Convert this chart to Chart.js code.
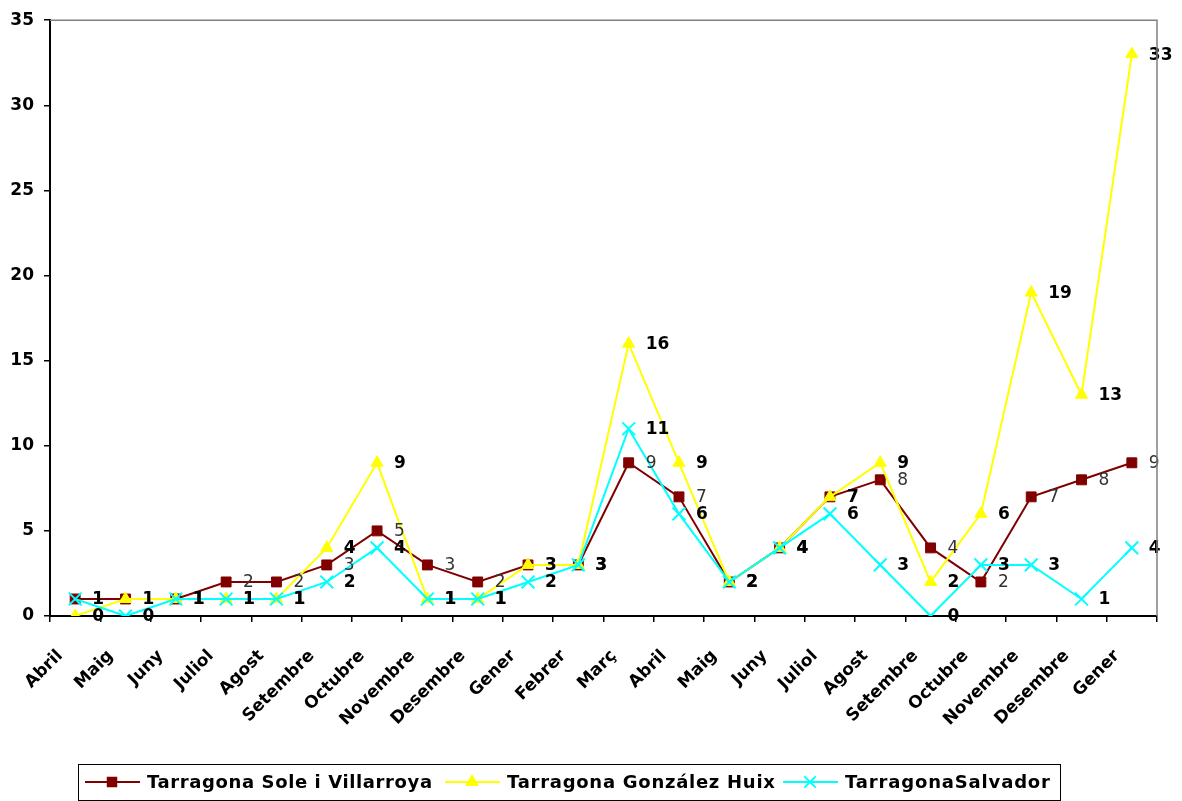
<!DOCTYPE html>
<html>
<head>
<meta charset="utf-8">
<script src="https://cdn.jsdelivr.net/npm/chart.js@4.4.1/dist/chart.umd.min.js"></script>
<style>
  html, body { margin: 0; padding: 0; background: #fff; }
  #wrap { width: 1182px; height: 801px; }
</style>
</head>
<body>
<div id="wrap"><canvas id="grafic" width="1182" height="801"></canvas></div>
<script>
const mesos = ['Abril', 'Maig', 'Juny', 'Juliol', 'Agost', 'Setembre', 'Octubre', 'Novembre', 'Desembre', 'Gener', 'Febrer', 'Març',
               'Abril', 'Maig', 'Juny', 'Juliol', 'Agost', 'Setembre', 'Octubre', 'Novembre', 'Desembre', 'Gener'];
const soleVillarroya = [1, 1, 1, 2, 2, 3, 5, 3, 2, 3, 3, 9, 7, 2, 4, 7, 8, 4, 2, 7, 8, 9];
const gonzalezHuix   = [0, 1, 1, 1, 1, 4, 9, 1, 1, 3, 3, 16, 9, 2, 4, 7, 9, 2, 6, 19, 13, 33];
const salvador       = [1, 0, 1, 1, 1, 2, 4, 1, 1, 2, 3, 11, 6, 2, 4, 6, 3, 0, 3, 3, 1, 4];
const yTicks = [0, 5, 10, 15, 20, 25, 30, 35];

const series = [
  { label: 'Tarragona Sole i Villarroya', data: soleVillarroya, color: '#800000', style: 'rect', radius: 7, order: 3, bold: false },
  { label: 'Tarragona González Huix', data: gonzalezHuix, color: '#ffff00', style: 'triangle', radius: 7, order: 2, bold: true },
  { label: 'TarragonaSalvador', data: salvador, color: '#00ffff', style: 'crossRot', radius: 9, order: 1, bold: true }
];

// legend slots: where each sample line starts and how wide each text runs
const legendLine = [85, 445, 783];
const legendText = [147, 507, 845];
const legendWidth = [285, 268, 205];

// value labels to the right of every point
const etiquetes = {
  id: 'etiquetes',
  afterDatasetsDraw(chart) {
    const ctx = chart.ctx;
    ctx.save();
    ctx.textAlign = 'left';
    ctx.textBaseline = 'middle';
    series.forEach((s, i) => {
      const meta = chart.getDatasetMeta(i);
      ctx.font = (s.bold ? 'bold ' : '') + '17px "DejaVu Sans"';
      ctx.fillStyle = s.bold ? '#000' : '#333';
      meta.data.forEach((pt, j) => {
        ctx.fillText(String(s.data[j]), pt.x + 17, pt.y + 1);
      });
    });
    ctx.restore();
  }
};

// grey frame on top/right and the boxed legend under the axis
const marc = {
  id: 'marc',
  afterDraw(chart) {
    const ctx = chart.ctx;
    const a = chart.chartArea;
    ctx.save();
    ctx.strokeStyle = '#808080';
    ctx.lineWidth = 1.5;
    ctx.beginPath();
    ctx.moveTo(a.left, a.top);
    ctx.lineTo(a.right, a.top);
    ctx.lineTo(a.right, a.bottom);
    ctx.stroke();

    // legend
    ctx.strokeStyle = '#000';
    ctx.lineWidth = 1;
    ctx.strokeRect(78.5, 764.5, 982, 36);
    ctx.font = 'bold 18px "DejaVu Sans"';
    ctx.textBaseline = 'middle';
    const y = 782;
    series.forEach((s, i) => {
      const x = legendLine[i];
      ctx.strokeStyle = s.color;
      ctx.fillStyle = s.color;
      ctx.lineWidth = 2;
      ctx.beginPath();
      ctx.moveTo(x, y);
      ctx.lineTo(x + 55, y);
      ctx.stroke();
      Chart.helpers.drawPoint(ctx, { pointStyle: s.style, radius: s.radius - 1, borderWidth: 2 }, x + 27, y);
      ctx.letterSpacing = '0px';
      const w = ctx.measureText(s.label).width;
      ctx.letterSpacing = ((legendWidth[i] - w) / (s.label.length - 1)).toFixed(2) + 'px';
      ctx.fillStyle = '#000';
      ctx.fillText(s.label, legendText[i], y + 1);
    });
    ctx.restore();
  }
};

new Chart(document.getElementById('grafic'), {
  type: 'line',
  data: {
    labels: mesos,
    datasets: series.map(s => ({
      label: s.label,
      data: s.data,
      borderColor: s.color,
      backgroundColor: s.color,
      borderWidth: 2,
      pointStyle: s.style,
      pointRadius: s.radius,
      pointHoverRadius: s.radius,
      pointBorderWidth: s.style === 'crossRot' ? 2 : 1,
      pointBackgroundColor: s.color,
      pointBorderColor: s.color,
      order: s.order,
      tension: 0
    }))
  },
  options: {
    responsive: false,
    animation: false,
    layout: { padding: { top: 20, right: 25, left: 0, bottom: 0 } },
    plugins: {
      legend: { display: false },
      tooltip: { enabled: false }
    },
    scales: {
      x: {
        offset: true,
        grid: { offset: true, drawOnChartArea: false, drawTicks: true, tickLength: 6, color: '#000', lineWidth: 1.5 },
        border: { color: '#000', width: 2 },
        ticks: {
          autoSkip: false,
          maxRotation: 45,
          minRotation: 45,
          padding: 24,
          labelOffset: -15,
          color: '#000',
          font: { family: 'DejaVu Sans', size: 17, weight: 'bold' }
        },
        afterFit(axis) { axis.height = 185; }
      },
      y: {
        min: 0,
        max: 35,
        afterBuildTicks(axis) { axis.ticks = yTicks.map(v => ({ value: v })); },
        grid: { drawOnChartArea: false, drawTicks: true, tickLength: 6, color: '#000', lineWidth: 1.5 },
        border: { color: '#000', width: 2 },
        ticks: {
          padding: 10,
          color: '#000',
          font: { family: 'DejaVu Sans', size: 17, weight: 'bold' }
        },
        afterFit(axis) { axis.width = 50; }
      }
    }
  },
  plugins: [etiquetes, marc]
});
</script>
</body>
</html>
